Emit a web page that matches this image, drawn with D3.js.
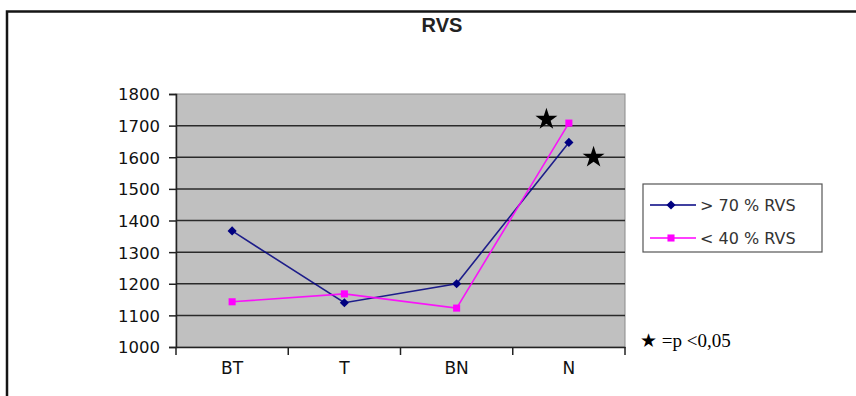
<!DOCTYPE html>
<html>
<head>
<meta charset="utf-8">
<script src="https://cdn.jsdelivr.net/npm/d3@7/dist/d3.min.js"></script>
<style>
  html, body { margin: 0; padding: 0; background: #fff; }
  svg { display: block; }
</style>
</head>
<body>
<svg id="chart" width="856" height="396"></svg>
<script>
// ---- data ----
const categories = ["BT", "T", "BN", "N"];
const seriesNames = ["> 70 % RVS", "< 40 % RVS"];
const highRVS = [1367, 1140, 1200, 1647];
const lowRVS = [1143, 1168, 1123, 1708];
const yTicks = [1000, 1100, 1200, 1300, 1400, 1500, 1600, 1700, 1800];
const starIndexPos = [2.8, 3.22];
const starValues = [1720, 1600];
const titleText = "RVS";
const footnoteText = "\u2605 =p <0,05";

// ---- layout ----
const svg = d3.select("#chart");
const plot = { left: 176, right: 625, top: 94, bottom: 347 };
const colors = ["#000080", "#ff00ff"];

// outer frame (top + left visible)
svg.append("rect")
  .attr("x", 7).attr("y", 11.5)
  .attr("width", 900).attr("height", 420)
  .attr("fill", "none").attr("stroke", "#151515").attr("stroke-width", 2.5);

// title
svg.append("text")
  .attr("x", 442).attr("y", 32)
  .attr("text-anchor", "middle")
  .attr("font-family", "Liberation Sans, Arial, sans-serif")
  .attr("font-weight", "bold").attr("font-size", 20)
  .attr("fill", "#222")
  .text(titleText);

const x = d3.scaleBand().domain(categories).range([plot.left, plot.right]).paddingInner(0).paddingOuter(0);
const xi = d3.scaleLinear().domain([-0.5, categories.length - 0.5]).range([plot.left, plot.right]);
const y = d3.scaleLinear().domain([1000, 1800]).range([plot.bottom, plot.top]);

// plot background
svg.append("rect")
  .attr("x", plot.left).attr("y", plot.top)
  .attr("width", plot.right - plot.left).attr("height", plot.bottom - plot.top)
  .attr("fill", "#c0c0c0").attr("stroke", "#8a8a8a").attr("stroke-width", 1);

// gridlines
svg.append("g").selectAll("line")
  .data(yTicks.filter(d => d > 1000 && d < 1800))
  .join("line")
  .attr("x1", plot.left).attr("x2", plot.right)
  .attr("y1", d => y(d)).attr("y2", d => y(d))
  .attr("stroke", "#2a2a2a").attr("stroke-width", 1.5);

// y axis
const yAxis = d3.axisLeft(y).tickValues(yTicks).tickSize(7).tickPadding(9).tickFormat(d3.format("d"));
const gy = svg.append("g").attr("transform", `translate(${plot.left},0)`).call(yAxis);
gy.select(".domain").attr("stroke", "#222").attr("stroke-width", 1.5);
gy.selectAll(".tick line").attr("stroke", "#222").attr("stroke-width", 1.5);
gy.selectAll(".tick text")
  .attr("font-family", "DejaVu Sans, sans-serif").attr("font-size", 16.5)
  .attr("fill", "#111").attr("dy", "0.36em");

// x axis
const xAxis = d3.axisBottom(x).tickSize(0).tickPadding(24);
const gx = svg.append("g").attr("transform", `translate(0,${plot.bottom})`).call(xAxis);
gx.select(".domain").attr("stroke", "#222").attr("stroke-width", 1.5);
gx.selectAll(".tick text")
  .attr("font-family", "DejaVu Sans, sans-serif").attr("font-size", 17)
  .attr("fill", "#111").attr("dy", "0.2em");
// category boundary ticks
svg.append("g").selectAll("line")
  .data(d3.range(categories.length + 1))
  .join("line")
  .attr("x1", d => xi(d - 0.5)).attr("x2", d => xi(d - 0.5))
  .attr("y1", plot.bottom).attr("y2", plot.bottom + 8)
  .attr("stroke", "#222").attr("stroke-width", 1.5);

// series
const allSeries = [highRVS, lowRVS];
const line = d3.line().x((d, i) => x(categories[i]) + x.bandwidth() / 2).y(d => y(d));
allSeries.forEach((vals, si) => {
  svg.append("path")
    .datum(vals)
    .attr("d", line)
    .attr("fill", "none")
    .attr("stroke", colors[si]).attr("stroke-width", 1.6)
    .attr("stroke-opacity", si === 0 ? 0.85 : 0.9);
});
// markers
const diamond = d3.symbol().type(d3.symbolSquare).size(42);
const square = d3.symbol().type(d3.symbolSquare).size(50);
allSeries.forEach((vals, si) => {
  svg.append("g").selectAll("path")
    .data(vals)
    .join("path")
    .attr("transform", (d, i) => `translate(${x(categories[i]) + x.bandwidth() / 2},${y(d)})` + (si === 0 ? " rotate(45)" : ""))
    .attr("d", si === 0 ? diamond : square)
    .attr("fill", colors[si]);
});

// significance stars
const star = d3.symbol().type(d3.symbolStar).size(150);
svg.append("g").selectAll("path")
  .data(starValues)
  .join("path")
  .attr("transform", (d, i) => `translate(${xi(starIndexPos[i])},${y(d)})`)
  .attr("d", star)
  .attr("fill", "#000");

// legend
const legend = svg.append("g");
legend.append("rect")
  .attr("x", 643).attr("y", 184).attr("width", 179).attr("height", 68)
  .attr("fill", "#fff").attr("stroke", "#555").attr("stroke-width", 1.2);
seriesNames.forEach((name, i) => {
  const ly = 205 + i * 33;
  legend.append("line")
    .attr("x1", 650).attr("x2", 696).attr("y1", ly).attr("y2", ly)
    .attr("stroke", colors[i]).attr("stroke-width", 1.6);
  legend.append("path")
    .attr("transform", `translate(671,${ly})` + (i === 0 ? " rotate(45)" : ""))
    .attr("d", i === 0 ? diamond : square)
    .attr("fill", colors[i]);
  legend.append("text")
    .attr("x", 700).attr("y", ly).attr("dy", "0.36em")
    .attr("font-family", "DejaVu Sans, sans-serif").attr("font-size", 16)
    .attr("fill", "#333")
    .text(name);
});

// footnote
svg.append("text")
  .attr("x", 640).attr("y", 347)
  .attr("font-family", "Liberation Serif, Times New Roman, serif")
  .attr("font-size", 19).attr("fill", "#000")
  .text(footnoteText);
</script>
</body>
</html>
